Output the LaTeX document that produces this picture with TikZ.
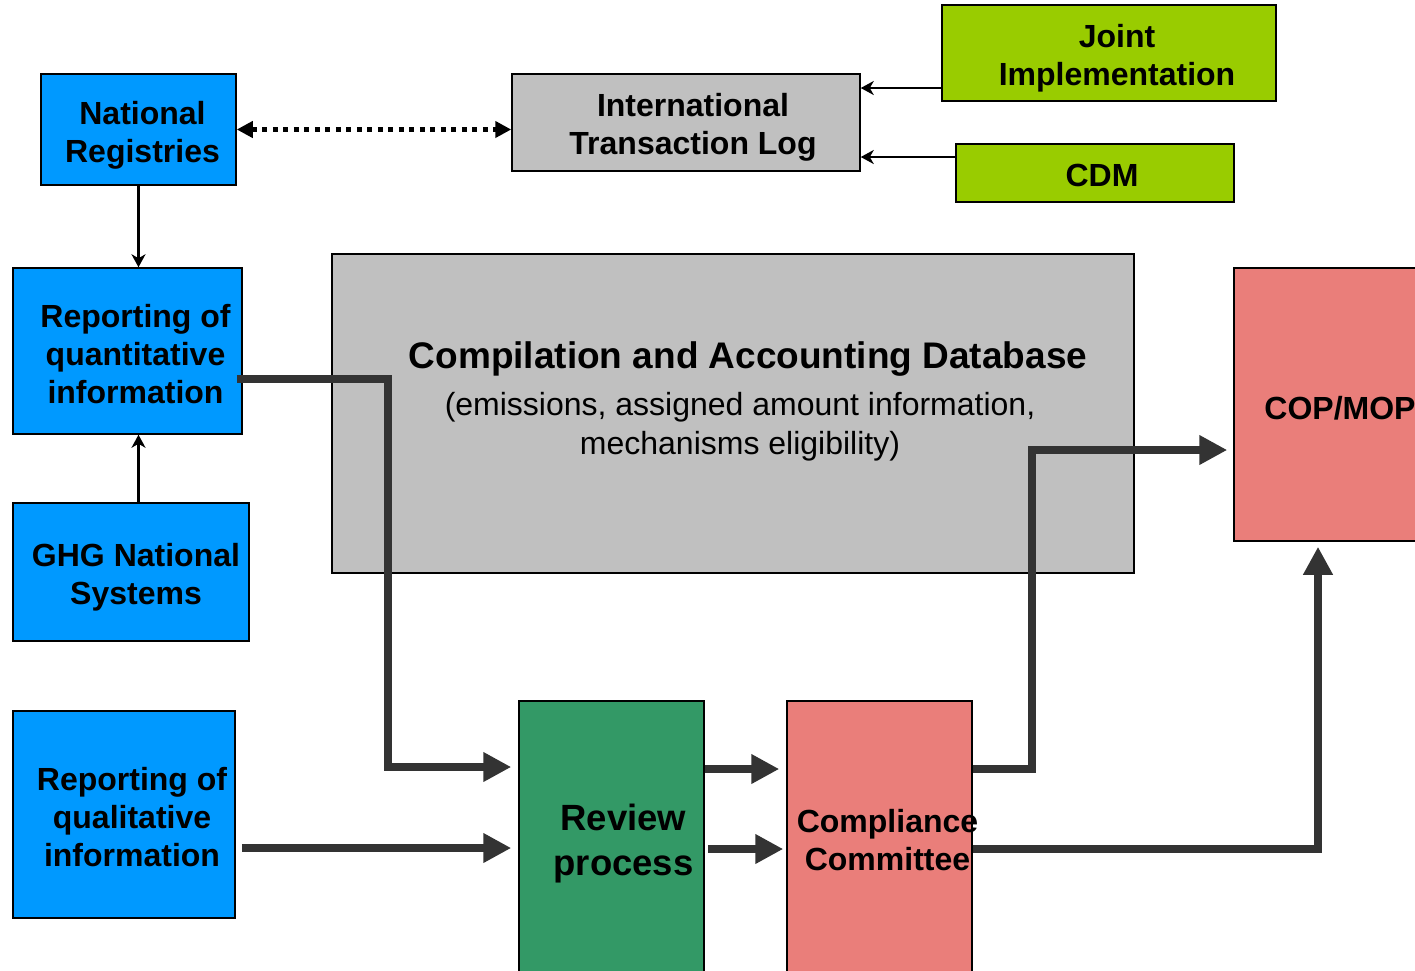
\documentclass[tikz,border=0pt]{standalone}
\usepackage{fontspec}
\setmainfont{Liberation Sans}
\usetikzlibrary{arrows.meta}
\definecolor{regblue}{RGB}{0,153,255}
\definecolor{loggrey}{RGB}{192,192,192}
\definecolor{mechgreen}{RGB}{153,204,0}
\definecolor{revgreen}{RGB}{51,153,102}
\definecolor{copred}{RGB}{234,126,122}
\definecolor{pipe}{RGB}{51,51,51}
\begin{document}
\begin{tikzpicture}[x=1pt, y=-1pt,
	boxed/.style={draw=black, line width=1.5pt, inner sep=0pt},
	bluebox/.style={boxed, fill=regblue},
	greybox/.style={boxed, fill=loggrey},
	greenbox/.style={boxed, fill=mechgreen},
	redbox/.style={boxed, fill=copred},
	lbl/.style={align=center, inner sep=0pt, font=\bfseries\fontsize{32}{38}\selectfont},
	thinarrow/.style={line width=2.5pt, -{Stealth[length=13pt, width=14pt, inset=4pt]}},
	bigarrow/.style={line width=8pt, draw=pipe, miter limit=4, -{Triangle[length=28pt, width=28pt]}}]
	\useasboundingbox (0,0) rectangle (1415,970);
	\clip (0,0) rectangle (1415,970);
	
	\node[bluebox, minimum width=195pt, minimum height=111pt, label={[lbl, xshift=4pt, yshift=-6pt]center:National\\Registries}] (NR) at (138.5,129.5) {};
	\node[greybox, minimum width=348pt, minimum height=97pt, label={[lbl, xshift=7pt, yshift=-5pt]center:International\\Transaction Log}] (ITL) at (686,122.5) {};
	\node[greenbox, minimum width=334pt, minimum height=96pt, label={[lbl, xshift=8pt, yshift=-5pt]center:Joint\\Implementation}] (JI) at (1109,53) {};
	\node[greenbox, minimum width=278pt, minimum height=58pt, label={[lbl, xshift=7pt, yshift=-2pt]center:CDM}] (CDM) at (1095,173) {};
	\node[bluebox, minimum width=229pt, minimum height=166pt, label={[lbl, xshift=8pt, yshift=-3pt]center:Reporting of\\quantitative\\information}] (RQ) at (127.5,351) {};
	\node[bluebox, minimum width=236pt, minimum height=138pt, label={[lbl, xshift=5pt, yshift=-5pt]center:GHG National\\Systems}] (GHG) at (131,572) {};
	\node[bluebox, minimum width=222pt, minimum height=207pt, label={[lbl, xshift=8pt, yshift=-3pt]center:Reporting of\\qualitative\\information}] (RL) at (124,814.5) {};
	\node[greybox, minimum width=802pt, minimum height=319pt] (DB) at (733,413.5) {};
	\node[align=center, font=\fontsize{32}{39}\selectfont] (DBT) at (740,401.5) {{\bfseries\fontsize{37}{44}\selectfont\hspace*{16pt}Compilation and Accounting Database}\\[8pt](emissions, assigned amount information,\\mechanisms eligibility)};
	\node[redbox, minimum width=208pt, minimum height=273pt, label={[lbl, xshift=2pt, yshift=-4pt]center:COP/MOP}] (COP) at (1338,404.5) {};
	\node[boxed, fill=revgreen, minimum width=185pt, minimum height=279pt, label={[lbl, xshift=12pt, yshift=-3pt, font=\bfseries\fontsize{36.5}{45}\selectfont]center:Review\\process}] (RP) at (611.5,840.5) {};
	\node[redbox, minimum width=185pt, minimum height=278pt, label={[lbl, xshift=8pt]center:Compliance\\Committee}] (CC) at (879.5,840) {};
	
	\path[thinarrow] (NR.south) edge (NR.south |- RQ.north);
	\path[thinarrow] (GHG.north -| NR.south) edge (NR.south |- RQ.south);
	\draw[line width=5pt, dash pattern=on 5pt off 5.5pt, {Triangle[length=16pt, width=16pt]}-{Triangle[length=16pt, width=16pt]}] (NR.east) -- (NR.east -| ITL.west);
	\path[thinarrow] ([yshift=-35pt]JI.west) edge ([yshift=-35pt]JI.west -| ITL.east);
	\path[thinarrow] ([yshift=16pt]CDM.west) edge ([yshift=16pt]CDM.west -| ITL.east);
	
	\draw[bigarrow, shorten >=7pt] ([yshift=-28pt, xshift=-6pt]RQ.east) -- ++(151,0) |- ([yshift=73.5pt]RP.west);
	\draw[bigarrow, shorten >=7pt] ([yshift=-33.5pt]RL.east) ++(6,0) -- ([yshift=-33.5pt]RL.east -| RP.west);
	\draw[bigarrow, shorten >=7pt] ([yshift=71.5pt]RP.east) -- ([yshift=71.5pt]RP.east -| CC.west);
	\draw[bigarrow, shorten >=3pt] ([yshift=-8.5pt]RP.east) ++(3,0) -- ([yshift=-8.5pt]RP.east -| CC.west);
	\draw[bigarrow, shorten >=6pt] ([yshift=71pt]CC.east) -- ++(59,0) |- ([yshift=-45.5pt]COP.west);
	\draw[bigarrow, shorten >=5pt] ([yshift=-9pt]CC.east) -| ([xshift=-20pt]COP.south);
\end{tikzpicture}
\end{document}
